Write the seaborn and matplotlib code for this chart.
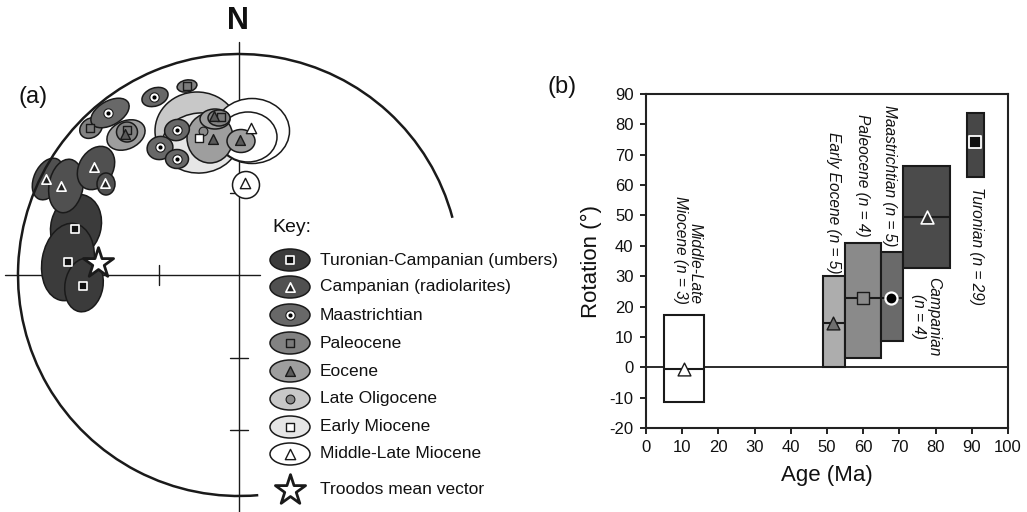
import numpy as np
import pandas as pd
import matplotlib
matplotlib.use("Agg")
import matplotlib.pyplot as plt
from matplotlib.patches import Ellipse, Arc
import seaborn as sns

# ---------------- Panel (a): confidence ellipses (x, y, width, height, angle), net radius = 221
umbers_ell = [(-163, 49, 50, 64, -15), (-171, 13, 52, 78, -10), (-155, -10, 38, 54, -10)]
umbers_pts = [(-164, 46), (-171, 13), (-156, -11)]
radiol_ell = [(-191, 96, 28, 44, -25), (-173, 89, 34, 54, -10), (-143, 107, 34, 46, -30), (-133, 91, 18, 22, 0)]
radiol_pts = [(-193, 96), (-178, 89), (-145, 108), (-134, 92)]
maas_ell = [(-129, 162, 42, 24, 30), (-84, 178, 27, 18, 20), (-62, 145, 25, 21, 15),
            (-79, 127, 26, 23, 15), (-62, 116, 23, 19, 0)]
maas_pts = [(-131, 162), (-85, 178), (-62, 145), (-79, 128), (-62, 116)]
paleo_ell = [(-52, 189, 20, 12, 10), (-148, 147, 24, 19, 35), (-112, 143, 21, 20, 0), (-20, 157, 22, 16, 0)]
paleo_pts = [(-52, 189), (-149, 147), (-112, 145), (-18, 158)]
eocene_ell = [(-113, 140, 40, 28, 25), (-29, 137, 46, 50, 0), (-24, 156, 30, 20, 0), (2, 134, 28, 23, 0)]
eocene_pts = [(-114, 141), (-26, 136), (-25, 159), (1, 135)]
lateolig_ell = [(-42, 144, 84, 78, 0)]
lateolig_pts = [(-36, 144)]
earlymio_ell = [(-39, 132, 76, 60, 5)]
earlymio_pts = [(-40, 137)]
mlm_ell = [(13, 144, 75, 65, 0), (9, 138, 58, 50, 0), (7, 90, 27, 27, 0)]
mlm_pts = [(12, 147), (6, 92)]
troodos_mean = (-141, 12)

key_labels = ["Turonian-Campanian (umbers)", "Campanian (radiolarites)", "Maastrichtian", "Paleocene",
              "Eocene", "Late Oligocene", "Early Miocene", "Middle-Late Miocene", "Troodos mean vector"]

# ---------------- Panel (b): rotation vs age boxes
periods_b = ["Middle-Late Miocene", "Early Eocene", "Paleocene", "Maastrichtian", "Campanian", "Turonian"]
age_min = [5.0, 49.0, 55.0, 65.0, 71.0, 88.7]
age_max = [16.0, 55.0, 65.0, 71.0, 84.0, 93.4]
rot_min = [-11.3, 0.0, 3.2, 8.8, 32.8, 62.8]
rot_max = [17.3, 30.0, 41.0, 38.0, 66.3, 83.8]
rot_mean = [-0.5, 14.7, 22.9, 22.9, 49.6, 74.3]
age_mean = [10.5, 51.7, 60.0, 67.7, 77.6, 91.0]
n_sites = [3, 5, 4, 5, 4, 29]
labels_b = ["Middle-Late\nMiocene (n = 3)", "Early Eocene (n = 5)", "Paleocene (n = 4)",
            "Maastrichtian (n = 5)", "Campanian\n(n = 4)", "Turonian (n = 29)"]
x_ticks = list(range(0, 101, 10))
y_ticks = list(range(-20, 91, 10))

# ---------------- styling
sns.set_style("white")
plt.rcParams['font.family'] = ['Liberation Sans', 'DejaVu Sans']
plt.rcParams['axes.unicode_minus'] = False
EDGE = '#1a1a1a'

fig = plt.figure(figsize=(10.27, 5.12), dpi=100)
ax = fig.add_axes([0, 0, 1, 1])
ax.set_xlim(-239, 788)
ax.set_ylim(-237, 275)
ax.axis('off')

R = 221
# crosshair and ticks
ax.plot([0, 0], [-240, 233], color=EDGE, lw=1.0, zorder=1)
ax.plot([-234, 21], [0, 0], color=EDGE, lw=1.0, zorder=1)
for t in [-80, -155]:
    ax.plot([t, t], [-10, 10], color=EDGE, lw=1.0, zorder=1)
for t in [82, -83, -155, 155]:
    ax.plot([-9, 9], [t, t], color=EDGE, lw=1.0, zorder=1)
ax.add_patch(Arc((0, 0), 2 * R, 2 * R, theta1=15, theta2=275, color=EDGE, lw=1.8, zorder=8))

def draw_ells(ells, fc, z):
    for (x, y, w, h, a) in ells:
        ax.add_patch(Ellipse((x, y), w, h, angle=a, facecolor=fc, edgecolor=EDGE, lw=1.1, zorder=z))

cols = ['#3b3b3b', '#505050', '#686868', '#828282', '#9e9e9e', '#c8c8c8', '#e6e6e6', '#ffffff']
draw_ells(lateolig_ell, cols[5], 2.0)
draw_ells(earlymio_ell, cols[6], 2.1)
draw_ells(mlm_ell, cols[7], 2.2)
draw_ells(eocene_ell, cols[4], 2.3)
draw_ells(paleo_ell, cols[3], 2.4)
draw_ells(maas_ell, cols[2], 2.5)
draw_ells(umbers_ell, cols[0], 2.6)
draw_ells(radiol_ell, cols[1], 2.7)

def pts(ax_, p, marker, s, fc, ec, lw, z):
    p = np.asarray(p, dtype=float)
    sns.scatterplot(x=p[:, 0], y=p[:, 1], ax=ax_, marker=marker, s=s, color=fc,
                    edgecolor=ec, linewidth=lw, zorder=z, legend=False)

# marker styles per category: (marker, size, face, edge, lw)
mstyles = [('s', 30, '#111111', 'white', 1.2),
           ('^', 45, '#222222', 'white', 1.2),
           ('o', 45, 'white', EDGE, 0.8),
           ('s', 38, '#7a7a7a', EDGE, 1.0),
           ('^', 50, '#5a5a5a', EDGE, 1.0),
           ('o', 40, '#8a8a8a', EDGE, 0.8),
           ('s', 40, 'white', EDGE, 1.0),
           ('^', 55, 'white', EDGE, 1.0)]
groups = [umbers_pts, radiol_pts, maas_pts, paleo_pts, eocene_pts, lateolig_pts, earlymio_pts, mlm_pts]
for g, st in zip(groups, mstyles):
    pts(ax, g, *st, 5)
pts(ax, maas_pts, 'o', 9, 'black', 'black', 0, 5.5)
pts(ax, [troodos_mean], '*', 520, 'white', EDGE, 2.0, 6)

# legend / key
ax.text(33, 47, "Key:", fontsize=14, ha='left', va='center', color='#111')
key_y = [15, -12, -40, -68, -96, -124, -152, -179]
for i, (lab, y) in enumerate(zip(key_labels[:8], key_y)):
    ax.add_patch(Ellipse((51, y), 40, 22, facecolor=cols[i], edgecolor=EDGE, lw=1.1, zorder=3))
    pts(ax, [(51, y)], *mstyles[i], 5)
    if i == 2:
        pts(ax, [(51, y)], 'o', 9, 'black', 'black', 0, 5.5)
    ax.text(81, y, lab, fontsize=12.5, ha='left', va='center', color='#111')
pts(ax, [(51, -215)], '*', 520, 'white', EDGE, 2.0, 6)
ax.text(81, -215, key_labels[8], fontsize=12.5, ha='left', va='center', color='#111')

ax.text(-1, 254, "N", fontsize=22, fontweight='bold', ha='center', va='center', color='#111')
ax.text(-206, 178, "(a)", fontsize=17, ha='center', va='center', color='#111')
ax.set_xlim(-239, 788)
ax.set_ylim(-237, 275)

# ---------------- Panel (b)
bx = fig.add_axes([646 / 1027, 84 / 512, 362 / 1027, 334 / 512])
box_cols = ['#ffffff', '#adadad', '#8a8a8a', '#6a6a6a', '#4b4b4b', '#474747']
widths = np.array(age_max) - np.array(age_min)
heights = np.array(rot_max) - np.array(rot_min)
bx.bar(age_min, heights, width=widths, bottom=rot_min, align='edge', color=box_cols,
       edgecolor=EDGE, linewidth=1.5, zorder=2)
bx.axhline(0, color=EDGE, lw=1.3, zorder=1.5)
for i in range(5):
    bx.hlines(rot_mean[i], age_min[i], age_max[i], color=EDGE, lw=1.5, zorder=3)

bstyles = [('^', 85, 'white', EDGE, 1.0),
           ('^', 85, '#6e6e6e', EDGE, 1.0),
           ('s', 75, '#8a8a8a', EDGE, 1.0),
           ('o', 75, 'black', 'white', 1.6),
           ('^', 85, '#333333', 'white', 1.2),
           ('s', 70, '#111111', 'white', 1.3)]
for i, st in enumerate(bstyles):
    pts(bx, [(age_mean[i], rot_mean[i])], *st, 5)

label_x = [11.6, 51.9, 59.7, 67.4, 77.4, 91.4]
label_y = [21.0, 31.0, 43.0, 39.7, 29.8, 59.4]
label_va = ['bottom', 'bottom', 'bottom', 'bottom', 'top', 'top']
label_ma = ['right', 'left', 'left', 'left', 'center', 'left']
for i in range(6):
    bx.text(label_x[i], label_y[i], labels_b[i], rotation=-90, style='italic', fontsize=11.2,
            ha='center', va=label_va[i], multialignment=label_ma[i], color='#111', linespacing=1.0)

bx.set_xlim(0, 100)
bx.set_ylim(-20, 90)
bx.set_xticks(x_ticks)
bx.set_yticks(y_ticks)
bx.tick_params(axis='both', direction='out', length=4, width=1.3, labelsize=12, colors='#111', pad=5,
               bottom=True, left=True)
for sp in bx.spines.values():
    sp.set_color('#222')
    sp.set_linewidth(1.5)
bx.set_xlabel("Age (Ma)", fontsize=16, color='#111', labelpad=7)
bx.set_ylabel("Rotation (°)", fontsize=16, color='#111', labelpad=5)
fig.text(562 / 1027, 1 - 87 / 512, "(b)", fontsize=17, ha='center', va='center', color='#111')

fig.savefig("out.png", dpi=100)
